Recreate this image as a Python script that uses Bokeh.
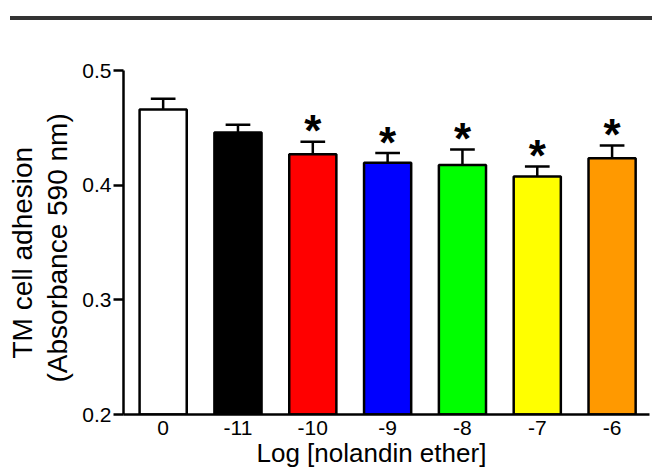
from bokeh.plotting import figure
from bokeh.models import Range1d, FixedTicker, Title, ColumnDataSource, Div
from bokeh.layouts import column
from bokeh.embed import file_html
from bokeh.resources import INLINE
from bokeh.core.properties import value

categories = ["0", "-11", "-10", "-9", "-8", "-7", "-6"]
means = [0.466, 0.446, 0.427, 0.4195, 0.4175, 0.4075, 0.4235]
sems = [0.0094, 0.0067, 0.0108, 0.0085, 0.0137, 0.0087, 0.0110]
significant = [False, False, True, True, True, True, True]
colors = ["#FFFFFF", "#000000", "#FF0000", "#0000FF", "#00FF00", "#FFFF00", "#FF9900"]
y_ticks = [0.2, 0.3, 0.4, 0.5]
x_title = "Log [nolandin ether]"
y_title_1 = "TM cell adhesion"
y_title_2 = "(Absorbance 590 nm)"

FONT = "Liberation Sans"
BAR_W = 0.63
CAP_W = 0.33

xs = list(range(len(categories)))
err_top = [m + s for m, s in zip(means, sems)]
src = ColumnDataSource(dict(
    x=xs, top=means, err=err_top, color=colors,
    cl=[x - CAP_W / 2 for x in xs], cr=[x + CAP_W / 2 for x in xs],
))
star_src = ColumnDataSource(dict(
    x=[x for x, s in zip(xs, significant) if s],
    y=[e for e, s in zip(err_top, significant) if s],
    t=["*" for s in significant if s],
))

p = figure(width=652, height=453, output_backend="svg", toolbar_location=None,
           x_range=Range1d(-0.53, 6.5), y_range=Range1d(0.2, 0.5),
           min_border_left=123, min_border_right=3, min_border_top=50,
           min_border_bottom=59)
p.grid.visible = False
p.outline_line_color = None

p.segment(x0="x", y0="top", x1="x", y1="err", source=src,
          line_color="black", line_width=2.5)
p.segment(x0="cl", y0="err", x1="cr", y1="err", source=src,
          line_color="black", line_width=2.5)
p.vbar(x="x", top="top", bottom=0.2, width=BAR_W, source=src,
       fill_color="color", line_color="black", line_width=2.5)
p.text(x="x", y="y", text="t", source=star_src, text_align="center",
       text_baseline="alphabetic", y_offset=-11, text_font=value(FONT),
       text_font_size="44px", text_font_style="bold", text_color="black")

for ax in (p.xaxis[0], p.yaxis[0]):
    ax.axis_line_width = 2.5
    ax.axis_line_color = "black"
    ax.major_label_text_font = FONT
    ax.major_label_text_font_size = "21px"
    ax.major_label_text_color = "black"
    ax.minor_tick_line_color = None

p.xaxis.ticker = FixedTicker(ticks=xs)
p.xaxis.major_label_overrides = {x: c for x, c in zip(xs, categories)}
p.xaxis.major_tick_line_color = None
p.xaxis.major_tick_out = 0
p.xaxis.major_tick_in = 0
p.xaxis.major_label_standoff = 6

p.yaxis.ticker = FixedTicker(ticks=y_ticks)
p.yaxis.major_tick_out = 10
p.yaxis.major_tick_in = 0
p.yaxis.major_tick_line_width = 2.5
p.yaxis.major_tick_line_color = "black"
p.yaxis.major_label_standoff = 2

p.add_layout(Title(text=x_title, align="left", offset=133, standoff=-3,
                   vertical_align="bottom",
                   text_font=FONT, text_font_size="26px",
                   text_font_style="normal", text_color="black"), "below")
p.add_layout(Title(text=y_title_2, align="left", offset=32, standoff=14,
                   text_font=FONT, text_font_size="28px",
                   text_font_style="normal", text_color="black"), "left")
p.add_layout(Title(text=y_title_1, align="left", offset=56, standoff=-10,
                   text_font=FONT, text_font_size="28px",
                   text_font_style="normal", text_color="black"), "left")

rule = Div(text="", width=642, height=4, margin=(16, 0, 0, 10),
           styles={"background-color": "#333333"})

layout = column(rule, p, spacing=0)
open("out.html", "w").write(file_html(layout, INLINE))
